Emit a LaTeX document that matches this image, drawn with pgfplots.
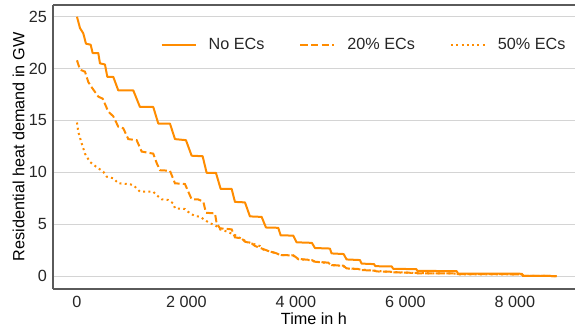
\documentclass[border=0pt]{standalone}
\usepackage{fontspec}
\setmainfont{Liberation Sans}
\usepackage{pgfplots}
\pgfplotsset{compat=1.18}
\definecolor{lc}{RGB}{255,140,0}
\definecolor{txt}{RGB}{38,38,38}
\definecolor{gridc}{RGB}{212,212,212}
\definecolor{spine}{RGB}{90,90,90}
\begin{document}
\fontsize{16.2}{19.4}\selectfont
\begin{tikzpicture}
\begin{axis}[
  scale only axis, width=522pt, height=284pt,
  xmin=-438, xmax=9096, ymin=-1.25, ymax=26.13,
  axis y line*=left,
  axis line style={spine, line width=1.1pt},
  major tick length=0pt,
  xtick={0,2000,4000,6000,8000},
  xticklabels={0,2 000,4 000,6 000,8 000},
  ytick={0,5,10,15,20,25},
  yticklabels={0,5,10,15,20,25},
  ymajorgrids, grid style={gridc, line width=1pt},
  tick label style={font=\fontsize{16.2}{19.4}\selectfont, text=txt},
  xticklabel style={anchor=center, yshift=-13pt},
  yticklabel style={anchor=east, inner sep=0pt, xshift=-6pt},
  xlabel={Time in h}, ylabel={Residential heat demand in GW},
  label style={font=\fontsize{16.2}{19.4}\selectfont, text=txt},
  every axis x label/.style={at={(rel axis cs:0.5,0)}, yshift=-30pt, anchor=center},
  every axis y label/.style={at={(rel axis cs:0,0.5)}, xshift=-34.5pt, rotate=90, anchor=center},
  legend columns=3,
  legend cell align=left,
  legend image code/.code={\draw[#1] (0pt,0pt) -- (34pt,0pt);},
  legend style={draw=none, fill=none, at={(rel axis cs:0.2058,0.859)}, anchor=west,
    font=\fontsize{16.2}{19.4}\selectfont, text=txt, inner sep=0pt,
    /tikz/every odd column/.append style={column sep=10pt},
    /tikz/every even column/.append style={column sep=33pt}},
]
\addplot[lc, line width=2pt, line join=round] coordinates {
(0,25.0)(55,23.9)(115,23.4)(164,22.4)(250,22.3)(286,21.5)(389,21.5)(420,20.5)(511,20.4)(554,19.2)(663,19.2)(754,17.9)(1028,17.9)(1150,16.3)(1393,16.3)(1485,14.7)(1698,14.7)(1790,13.2)(1990,13.1)(2094,11.6)(2295,11.55)(2368,9.95)(2538,9.95)(2624,8.4)(2825,8.4)(2885,7.15)(3068,7.1)(3159,5.75)(3373,5.7)(3451,4.68)(3676,4.65)(3720,3.92)(3950,3.9)(4012,3.25)(4290,3.2)(4346,2.7)(4620,2.65)(4650,2.18)(4870,2.12)(4924,1.6)(5168,1.54)(5198,1.2)(5425,1.15)(5450,0.95)(5750,0.92)(5775,0.7)(6200,0.66)(6215,0.5)(6935,0.47)(6960,0.23)(8125,0.22)(8150,0.02)(8760,0.0)
};
\addlegendentry{No ECs}
\addplot[lc, line width=2pt, dash pattern=on 7.4pt off 3.2pt] coordinates {
(0,20.8)(55,19.9)(146,19.7)(207,18.7)(268,18.2)(389,17.3)(469,17.1)(572,15.85)(663,15.4)(754,14.4)(845,14.25)(937,13.2)(1090,13.1)(1181,12.0)(1393,11.8)(1455,10.9)(1516,10.2)(1698,10.15)(1729,9.74)(1790,8.94)(1972,8.87)(2033,8.13)(2094,7.4)(2216,7.38)(2307,7.17)(2356,6.1)(2520,6.04)(2551,5.08)(2611,4.6)(2825,4.5)(2885,3.73)(3007,3.63)(3068,3.31)(3190,3.15)(3250,2.9)(3403,2.6)(3500,2.4)(3646,2.19)(3707,2.03)(3950,2.0)(4042,1.65)(4290,1.54)(4346,1.38)(4590,1.29)(4650,1.06)(4863,1.0)(4924,0.74)(5168,0.67)(5198,0.58)(5442,0.51)(5470,0.44)(5716,0.42)(5750,0.36)(6203,0.3)(6220,0.26)(6935,0.25)(6960,0.18)(8125,0.17)(8150,0.02)(8760,0)
};
\addlegendentry{20\% ECs}
\addplot[lc, line width=2pt, dash pattern=on 2pt off 3.3pt] coordinates {
(0,14.8)(24,13.9)(85,12.8)(146,11.8)(237,11.0)(359,10.5)(481,10.06)(542,9.58)(663,9.42)(754,8.94)(937,8.87)(1028,8.78)(1090,8.45)(1150,8.13)(1393,8.13)(1455,7.8)(1547,7.4)(1667,7.33)(1759,7.0)(1790,6.53)(1972,6.46)(2063,6.04)(2155,5.79)(2246,5.72)(2337,5.4)(2429,5.08)(2520,4.92)(2611,4.5)(2733,4.3)(2885,3.95)(3068,3.4)(3190,3.15)(3342,2.89)(3403,2.55)(3646,2.19)(3707,2.03)(3950,1.98)(4042,1.62)(4290,1.52)(4346,1.36)(4590,1.27)(4650,1.04)(4863,0.98)(4924,0.72)(5168,0.65)(5442,0.5)(5716,0.4)(6203,0.28)(6935,0.24)(6960,0.17)(8125,0.16)(8150,0.02)(8760,0)
};
\addlegendentry{50\% ECs}
\end{axis}
\pgfresetboundingbox
\path ([shift={(-53pt,-40pt)}]current axis.south west) rectangle ([shift={(0pt,5pt)}]current axis.north east);
\end{tikzpicture}
\end{document}
